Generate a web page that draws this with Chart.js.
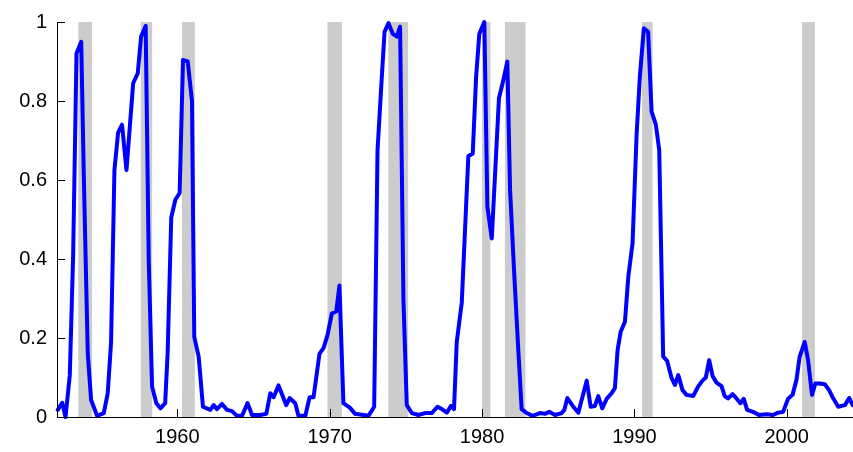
<!DOCTYPE html>
<html>
<head>
<meta charset="utf-8">
<script src="https://cdn.jsdelivr.net/npm/chart.js@4.4.1/dist/chart.umd.min.js"></script>
<style>
  html, body { margin: 0; padding: 0; background: #fff; }
  #wrap { width: 853px; height: 452px; }
</style>
</head>
<body>
<div id="wrap"><canvas id="c"></canvas></div>
<script>
// dates (decimal years) and values
const dates = [1952.15,1952.44,1952.66,1952.94,1953.16,1953.38,1953.69,1953.86,1954.12,1954.34,1954.73,1955.17,1955.43,1955.65,1955.87,1956.11,1956.37,1956.66,1957.1,1957.4,1957.62,1957.92,1958.12,1958.34,1958.62,1958.89,1959.2,1959.36,1959.6,1959.87,1960.15,1960.37,1960.68,1960.96,1961.11,1961.4,1961.68,1962.16,1962.38,1962.6,1962.93,1963.26,1963.59,1963.91,1964.24,1964.61,1964.9,1965.44,1965.84,1966.1,1966.32,1966.64,1967.15,1967.37,1967.74,1967.95,1968.4,1968.68,1968.94,1969.33,1969.6,1969.86,1970.14,1970.43,1970.64,1970.9,1971.34,1971.67,1972.54,1972.92,1973.14,1973.42,1973.6,1973.86,1974.14,1974.41,1974.62,1974.84,1975.06,1975.39,1975.82,1976.26,1976.7,1977.07,1977.36,1977.69,1977.95,1978.16,1978.34,1978.67,1979.1,1979.39,1979.61,1979.82,1980.15,1980.35,1980.64,1981.11,1981.4,1981.66,1981.84,1982.1,1982.38,1982.6,1982.93,1983.32,1983.8,1984.13,1984.41,1984.79,1985.23,1985.4,1985.6,1985.99,1986.32,1986.87,1987.13,1987.41,1987.63,1987.89,1988.18,1988.5,1988.72,1988.9,1989.1,1989.38,1989.6,1989.88,1990.14,1990.36,1990.62,1990.9,1991.13,1991.41,1991.63,1991.89,1992.15,1992.44,1992.66,1992.88,1993.16,1993.42,1993.86,1994.18,1994.47,1994.69,1994.91,1995.13,1995.39,1995.72,1995.93,1996.15,1996.44,1996.7,1996.96,1997.18,1997.4,1997.79,1998.18,1998.67,1999.1,1999.43,1999.76,2000.09,2000.38,2000.64,2000.85,2001.18,2001.4,2001.66,2001.88,2002.17,2002.5,2002.78,2003.04,2003.38,2003.82,2004.1,2004.33];
const values = [0.018,0.036,0.0,0.106,0.41,0.92,0.95,0.61,0.16,0.043,0.003,0.01,0.06,0.19,0.625,0.72,0.74,0.625,0.845,0.87,0.963,0.99,0.40,0.077,0.035,0.022,0.035,0.16,0.505,0.55,0.567,0.904,0.90,0.80,0.203,0.153,0.026,0.018,0.03,0.02,0.033,0.018,0.015,0.003,0.003,0.035,0.005,0.005,0.008,0.06,0.05,0.08,0.03,0.048,0.035,0.003,0.003,0.05,0.05,0.16,0.175,0.208,0.262,0.267,0.333,0.035,0.023,0.008,0.003,0.026,0.676,0.86,0.975,0.997,0.97,0.963,0.988,0.296,0.03,0.01,0.005,0.01,0.01,0.026,0.02,0.011,0.028,0.02,0.19,0.29,0.66,0.667,0.86,0.97,1.0,0.532,0.452,0.807,0.853,0.9,0.575,0.372,0.17,0.02,0.01,0.003,0.01,0.008,0.013,0.005,0.01,0.018,0.048,0.026,0.011,0.092,0.026,0.028,0.053,0.022,0.046,0.06,0.073,0.17,0.216,0.241,0.355,0.44,0.71,0.862,0.984,0.975,0.773,0.74,0.676,0.153,0.142,0.099,0.081,0.106,0.068,0.056,0.053,0.077,0.092,0.1,0.144,0.104,0.087,0.078,0.053,0.047,0.058,0.047,0.035,0.046,0.018,0.013,0.005,0.007,0.005,0.011,0.013,0.046,0.056,0.094,0.153,0.19,0.144,0.056,0.085,0.085,0.083,0.068,0.048,0.026,0.03,0.048,0.03];
// recession shading, start/end in decimal years
const recStart = [1953.5,1957.6,1960.3,1969.85,1973.85,1980.0,1981.5,1990.5,2001.0];
const recEnd   = [1954.4,1958.35,1961.15,1970.8,1975.15,1980.55,1982.85,1991.2,2001.85];
const xTicks = [1960,1970,1980,1990,2000];
const yTicks = [0,0.2,0.4,0.6,0.8,1];

const bandsAndTicks = {
  id: "bandsAndTicks",
  beforeDatasetsDraw(chart) {
    const { ctx, chartArea: a, scales: { x } } = chart;
    ctx.save();
    ctx.fillStyle = "#cccccc";
    for (let i = 0; i < recStart.length; i++) {
      const x0 = x.getPixelForValue(recStart[i]);
      const x1 = x.getPixelForValue(recEnd[i]);
      ctx.fillRect(x0, a.top, x1 - x0, a.bottom - a.top);
    }
    ctx.restore();
  },
  afterDraw(chart) {
    const { ctx, chartArea: a, scales: { x, y } } = chart;
    ctx.save();
    ctx.strokeStyle = "#000";
    ctx.lineWidth = 1;
    ctx.beginPath();
    ctx.moveTo(a.left + 0.5, a.top);
    ctx.lineTo(a.left + 0.5, a.bottom + 0.5);
    ctx.lineTo(a.right, a.bottom + 0.5);
    xTicks.forEach(v => {
      const px = Math.round(x.getPixelForValue(v)) + 0.5;
      ctx.moveTo(px, a.bottom);
      ctx.lineTo(px, a.bottom - 8);
    });
    yTicks.forEach(v => {
      const py = Math.round(y.getPixelForValue(v)) + 0.5;
      ctx.moveTo(a.left, py);
      ctx.lineTo(a.left + 8, py);
    });
    ctx.stroke();
    ctx.restore();
  }
};

new Chart(document.getElementById("c"), {
  type: "line",
  data: {
    datasets: [{
      data: dates.map((d, i) => ({ x: d, y: values[i] })),
      borderColor: "#0000ff",
      borderWidth: 4,
      borderJoinStyle: "round",
      borderCapStyle: "round",
      pointRadius: 0,
      tension: 0,
      clip: false
    }]
  },
  options: {
    responsive: true,
    maintainAspectRatio: false,
    animation: false,
    layout: { padding: { top: 22, right: 0, left: 0, bottom: 0 } },
    plugins: { legend: { display: false }, tooltip: { enabled: false } },
    scales: {
      x: {
        type: "linear",
        min: 1952.1,
        max: 2004.35,
        afterBuildTicks: s => { s.ticks = xTicks.map(v => ({ value: v })); },
        afterFit: s => { s.height = 35; },
        grid: { display: false, drawTicks: false },
        border: { display: false },
        ticks: { color: "#000", font: { family: "Liberation Sans", size: 20 }, padding: 8, callback: v => String(v) }
      },
      y: {
        min: 0,
        max: 1,
        afterBuildTicks: s => { s.ticks = yTicks.map(v => ({ value: v })); },
        afterFit: s => { s.width = 57; },
        grid: { display: false, drawTicks: false },
        border: { display: false },
        ticks: { color: "#000", font: { family: "Liberation Sans", size: 20 }, padding: 10, callback: v => String(Math.round(v * 10) / 10) }
      }
    }
  },
  plugins: [bandsAndTicks]
});
</script>
</body>
</html>
